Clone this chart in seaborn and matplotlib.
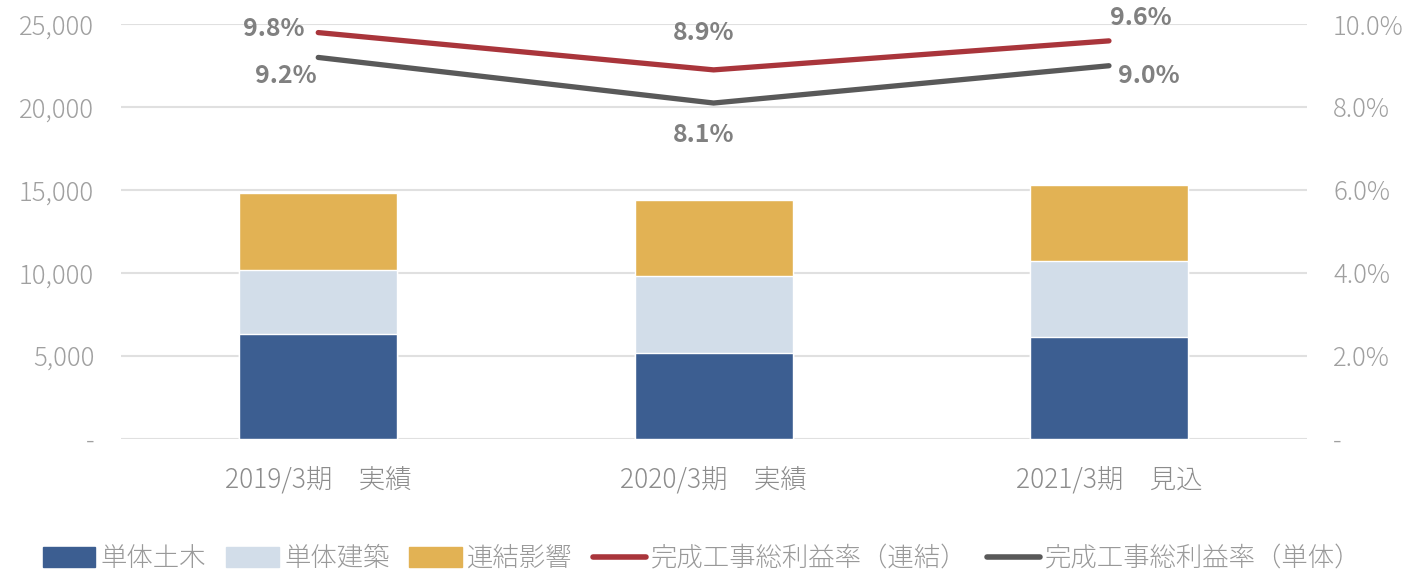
import matplotlib
matplotlib.use('Agg')
import matplotlib.pyplot as plt
import matplotlib.patches as mpatches
import matplotlib.lines as mlines
from matplotlib.ticker import FixedLocator, FuncFormatter
import pandas as pd
import seaborn as sns

sns.set_theme(style='white')
plt.rcParams['font.family'] = ['Noto Sans CJK JP', 'DejaVu Sans']

# データ
periods = ['2019/3期\u3000実績', '2020/3期\u3000実績', '2021/3期\u3000見込']
doboku = [6290, 5180, 6130]      # 単体土木
kenchiku = [3870, 4610, 4610]    # 単体建築
renketsu = [4640, 4640, 4580]    # 連結影響
rate_renketsu = [9.8, 8.9, 9.6]  # 完成工事総利益率（連結）
rate_tantai = [9.2, 8.1, 9.0]    # 完成工事総利益率（単体）

series_names = ['単体土木', '単体建築', '連結影響']
colors = ['#3c5e91', '#d2dde9', '#e2b254']
line_names = ['完成工事総利益率（連結）', '完成工事総利益率（単体）']
line_colors = ['#a9353b', '#595959']

df = pd.DataFrame({'period': periods, 'doboku': doboku,
                   'kenchiku': kenchiku, 'renketsu': renketsu})
df['c1'] = df['doboku']
df['c2'] = df['c1'] + df['kenchiku']
df['c3'] = df['c2'] + df['renketsu']

fig = plt.figure(figsize=(14.1, 5.73), dpi=100)
ax = fig.add_axes([0.0855, 0.2344, 0.8412, 0.7232])

# 積み上げ棒（累計を大きい順に重ねて描画）
for col, c in zip(['c3', 'c2', 'c1'], colors[::-1]):
    sns.barplot(data=df, x='period', y=col, color=c, width=0.4,
                saturation=1, ax=ax, zorder=2)

ax.set_xlim(-0.5, 2.5)
ax.set_ylim(0, 25000)
ax.yaxis.set_major_locator(FixedLocator(range(0, 25001, 5000)))
ax.yaxis.set_major_formatter(FuncFormatter(lambda v, p: '-' if v == 0 else f'{int(v):,}'))
ax.grid(axis='y', color='#e0e0e0', linewidth=1.5, zorder=0)
ax.set_axisbelow(True)
ax.set_xlabel('')
ax.set_ylabel('')
for s in ax.spines.values():
    s.set_visible(False)
ax.tick_params(axis='y', length=0, pad=19, labelsize=18.5, labelcolor='#a0a0a0')
ax.tick_params(axis='x', length=0, pad=20, labelsize=19, labelcolor='#8c8c8c')
for t in ax.get_xticklabels() + ax.get_yticklabels():
    t.set_fontweight('light')

# 利益率（右軸）
ax2 = ax.twinx()
xpos = [0, 1, 2]
sns.lineplot(x=xpos, y=rate_renketsu, color=line_colors[0], linewidth=3.8,
             ax=ax2, solid_capstyle='round', solid_joinstyle='miter')
sns.lineplot(x=xpos, y=rate_tantai, color=line_colors[1], linewidth=3.8,
             ax=ax2, solid_capstyle='round', solid_joinstyle='miter')
ax2.set_ylim(0, 10)
ax2.set_xlim(-0.5, 2.5)
ax2.yaxis.set_major_locator(FixedLocator(range(0, 11, 2)))
ax2.yaxis.set_major_formatter(FuncFormatter(lambda v, p: '-' if v == 0 else f'{v:.1f}%'))
ax2.grid(False)
for s in ax2.spines.values():
    s.set_visible(False)
ax2.tick_params(axis='y', length=0, pad=19, labelsize=18.5, labelcolor='#a0a0a0')
for t in ax2.get_yticklabels():
    t.set_fontweight('light')

# データラベル
offs_r = [(-44, 4), (-10, 37), (32, 23)]
offs_t = [(-32, -19), (-10, -32), (40, -10)]
for i in range(3):
    ax2.annotate(f'{rate_renketsu[i]:.1f}%', (xpos[i], rate_renketsu[i]),
                 xytext=offs_r[i], textcoords='offset pixels', ha='center', va='center',
                 fontsize=18, fontweight='bold', color='#808080')
    ax2.annotate(f'{rate_tantai[i]:.1f}%', (xpos[i], rate_tantai[i]),
                 xytext=offs_t[i], textcoords='offset pixels', ha='center', va='center',
                 fontsize=18, fontweight='bold', color='#808080')

# 凡例
handles = [mpatches.Patch(color=c, label=n) for c, n in zip(colors, series_names)]
handles += [mlines.Line2D([], [], color=c, linewidth=4, solid_capstyle='round', label=n)
            for c, n in zip(line_colors, line_names)]
leg = fig.legend(handles=handles, loc='center', bbox_to_anchor=(0.498, 0.026), ncol=5,
                 frameon=False, fontsize=19, labelcolor='#999999', handlelength=2.0,
                 handleheight=0.75, handletextpad=0.2, columnspacing=0.75, borderaxespad=0)
for t in leg.get_texts():
    t.set_fontweight('light')

fig.savefig('out.png', dpi=100)
